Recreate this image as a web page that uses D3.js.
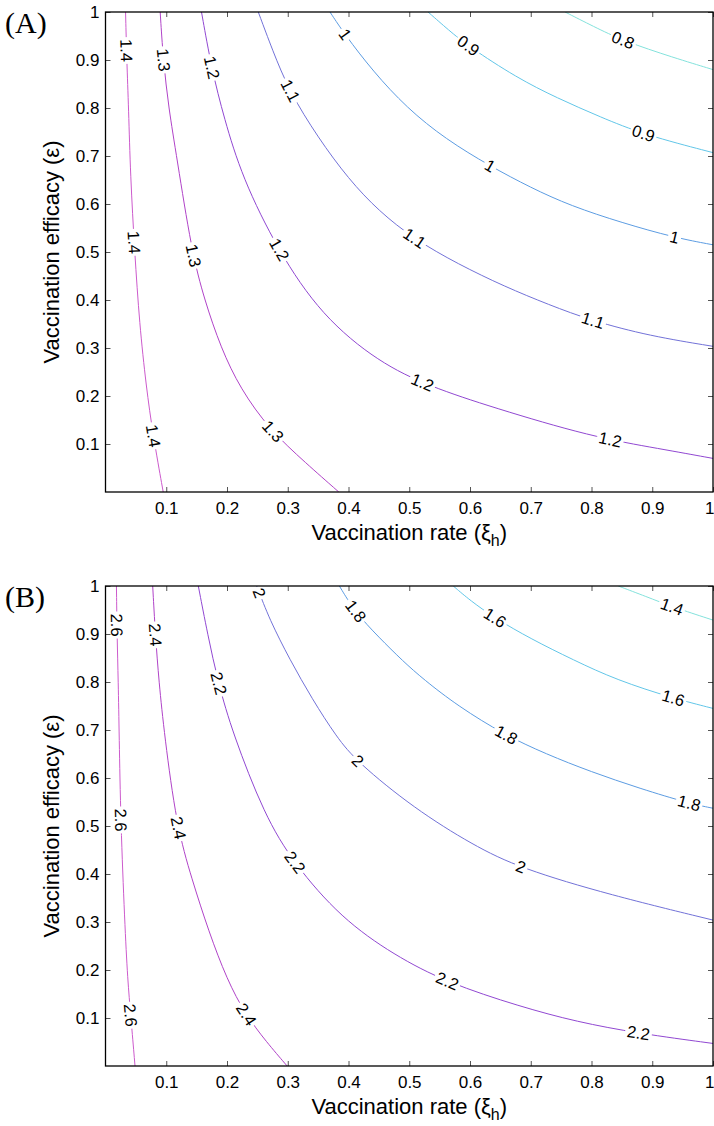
<!DOCTYPE html>
<html>
<head>
<meta charset="utf-8">
<script src="https://cdn.jsdelivr.net/npm/d3@7"></script>
<style>
  body { margin: 0; background: #fff; }
  svg { display: block; }
  text { font-family: "Liberation Sans", Arial, Helvetica, sans-serif; }
</style>
</head>
<body>
<svg id="chart" width="714" height="1126"></svg>
<script>
// tick values / labels (same on both axes)
var tickValues = [0.1, 0.2, 0.3, 0.4, 0.5, 0.6, 0.7, 0.8, 0.9, 1];
var tickLabels = ["0.1", "0.2", "0.3", "0.4", "0.5", "0.6", "0.7", "0.8", "0.9", "1"];

// one colour per contour level, highest level first (magenta -> cyan)
var levelColors = ["#cc5acc", "#b043c8", "#9148d2", "#7272d8", "#5c9ce2", "#62c6e8", "#84e2dc"];

// --- panel A : contour levels, traced lines [xi_h, eps], label anchors ---
var levelsA = [1.4, 1.3, 1.2, 1.1, 1, 0.9, 0.8];
var contoursA = [
  [[0.033,1],[0.035,0.9],[0.038,0.8],[0.041,0.66],[0.048,0.5],[0.056,0.35],[0.067,0.22],[0.078,0.12],[0.095,0]],
  [[0.09,1],[0.095,0.9],[0.104,0.8],[0.117,0.7],[0.142,0.5],[0.163,0.4],[0.19,0.3],[0.222,0.215],[0.27,0.13],[0.33,0.06],[0.384,0]],
  [[0.158,1],[0.175,0.88],[0.195,0.78],[0.225,0.655],[0.284,0.503],[0.356,0.367],[0.45,0.27],[0.533,0.22],[0.638,0.176],[0.8,0.115],[0.913,0.09],[1,0.07]],
  [[0.2515,1],[0.275,0.92],[0.3025,0.835],[0.35,0.738],[0.40,0.652],[0.45,0.585],[0.508,0.527],[0.58,0.475],[0.657,0.428],[0.73,0.39],[0.80,0.357],[0.896,0.325],[1,0.3035]],
  [[0.3695,1],[0.394,0.953],[0.44,0.877],[0.496,0.80],[0.56,0.735],[0.633,0.679],[0.70,0.634],[0.766,0.596],[0.85,0.561],[0.9365,0.53],[1,0.515]],
  [[0.531,1],[0.565,0.962],[0.597,0.929],[0.677,0.863],[0.743,0.821],[0.815,0.781],[0.885,0.745],[1,0.707]],
  [[0.7565,1],[0.803,0.97],[0.852,0.94],[0.935,0.905],[1,0.88]]
];
var labelsA = [
  [[0.033,0.92],[0.046,0.52],[0.077,0.117]],
  [[0.095,0.9],[0.142,0.492],[0.274,0.124]],
  [[0.175,0.884],[0.284,0.503],[0.52,0.223],[0.83,0.103]],
  [[0.3025,0.835],[0.508,0.527],[0.8025,0.357]],
  [[0.394,0.953],[0.633,0.679],[0.9365,0.53]],
  [[0.597,0.929],[0.885,0.745]],
  [[0.852,0.94]]
];

// --- panel B ---
var levelsB = [2.6, 2.4, 2.2, 2, 1.8, 1.6, 1.4];
var contoursB = [
  [[0.018,1],[0.019,0.9],[0.021,0.8],[0.0225,0.69],[0.025,0.51],[0.0316,0.3],[0.0365,0.179],[0.0415,0.106],[0.0486,0]],
  [[0.0777,1],[0.082,0.9],[0.088,0.8],[0.097,0.69],[0.117,0.5],[0.142,0.39],[0.17,0.28],[0.2,0.18],[0.23,0.108],[0.265,0.05],[0.299,0]],
  [[0.1528,1],[0.168,0.9],[0.1857,0.797],[0.209,0.695],[0.2615,0.523],[0.310,0.422],[0.388,0.308],[0.475,0.231],[0.5617,0.174],[0.682,0.124],[0.7756,0.092],[0.877,0.068],[1,0.047]],
  [[0.249,1],[0.27,0.93],[0.3037,0.846],[0.34,0.765],[0.3805,0.685],[0.4137,0.634],[0.5077,0.537],[0.605,0.46],[0.6825,0.412],[0.8315,0.356],[1,0.304]],
  [[0.385,1],[0.4107,0.946],[0.45,0.893],[0.49,0.843],[0.523,0.806],[0.58,0.75],[0.6566,0.69],[0.725,0.65],[0.799,0.613],[0.88,0.578],[0.961,0.547],[1,0.537]],
  [[0.5725,1],[0.60,0.97],[0.641,0.933],[0.70,0.89],[0.770,0.846],[0.8415,0.804],[0.9346,0.766],[1,0.745]],
  [[0.844,1],[0.89,0.978],[0.932,0.957],[1,0.929]]
];
var labelsB = [
  [[0.019,0.919],[0.025,0.5125],[0.0415,0.106]],
  [[0.0815,0.898],[0.119,0.496],[0.2296,0.106]],
  [[0.1857,0.797],[0.31,0.422],[0.5617,0.175],[0.877,0.068]],
  [[0.252,0.985],[0.4137,0.634],[0.6825,0.412]],
  [[0.4107,0.946],[0.6566,0.683],[0.961,0.547]],
  [[0.641,0.933],[0.9346,0.766]],
  [[0.932,0.957]]
];

var svg = d3.select("#chart"),
	plotLeft = 105.5,
	plotRight = 713,
	plotHeight = 480;

drawPanel("(A)", 12, "a", levelsA, contoursA, labelsA);
drawPanel("(B)", 586, "b", levelsB, contoursB, labelsB);

function drawPanel(tag, top, id, levels, contours, labels) {
	var x = d3.scaleLinear().domain([0, 1]).range([plotLeft, plotRight]),
		y = d3.scaleLinear().domain([0, 1]).range([top + plotHeight, top]),
		g = svg.append("g");

	g.append("clipPath").attr("id", "clip-" + id)
	  .append("rect")
		.attr("x", x(0)).attr("y", y(1))
		.attr("width", x(1) - x(0)).attr("height", y(0) - y(1));

	var line = d3.line()
		.x(function(d) { return x(d[0]); })
		.y(function(d) { return y(d[1]); })
		.curve(d3.curveBasis);

	// contour lines
	var paths = g.append("g").attr("clip-path", "url(#clip-" + id + ")")
		.selectAll("path").data(contours).enter().append("path")
		.attr("d", line)
		.attr("fill", "none")
		.attr("stroke", function(d, i) { return levelColors[i]; })
		.attr("stroke-width", 1);

	// inline labels, rotated along the line, with a gap under them
	var labelLayer = g.append("g");
	paths.each(function(d, i) {
		var node = this;
		labels[i].forEach(function(a) {
			placeLabel(labelLayer, node, x(a[0]), y(a[1]), String(levels[i]));
		});
	});

	// ticks: inward on all four sides
	var xAxis = d3.axisBottom(x).tickValues(tickValues)
		.tickFormat(function(d, i) { return tickLabels[i]; })
		.tickSizeInner(-5).tickSizeOuter(0).tickPadding(10);
	var yAxis = d3.axisLeft(y).tickValues(tickValues)
		.tickFormat(function(d, i) { return tickLabels[i]; })
		.tickSizeInner(-5).tickSizeOuter(0).tickPadding(6);

	var gx = g.append("g").attr("transform", "translate(0," + y(0) + ")").call(xAxis);
	g.append("g").attr("transform", "translate(" + x(0) + ",0)").call(yAxis);
	g.append("g").attr("transform", "translate(0," + y(1) + ")")
		.call(d3.axisTop(x).tickValues(tickValues).tickFormat("").tickSizeInner(-5).tickSizeOuter(0));
	g.append("g").attr("transform", "translate(" + x(1) + ",0)")
		.call(d3.axisRight(y).tickValues(tickValues).tickFormat("").tickSizeInner(-5).tickSizeOuter(0));

	g.selectAll(".domain").remove();
	g.selectAll(".tick line").attr("stroke", "#555");
	g.selectAll(".tick text").attr("font-size", 17).attr("fill", "#000")
		.style("font-family", "'Liberation Sans', Arial, sans-serif");
	// the last x label sits on the window edge: keep it inside
	gx.selectAll(".tick text").filter(function(d) { return d === 1; })
		.attr("text-anchor", "end").attr("x", 714 - x(1));

	// frame
	g.append("rect")
		.attr("x", x(0)).attr("y", y(1))
		.attr("width", x(1) - x(0)).attr("height", y(0) - y(1))
		.attr("fill", "none").attr("stroke", "#000").attr("stroke-width", 1.3);

	// axis titles
	var xt = g.append("text")
		.attr("x", (x(0) + x(1)) / 2).attr("y", y(0) + 48)
		.attr("text-anchor", "middle").attr("font-size", 22)
		.text("Vaccination rate (ξ");
	xt.append("tspan").attr("dy", 6).attr("font-size", 16).text("h");
	xt.append("tspan").attr("dy", -6).text(")");

	g.append("text")
		.attr("transform", "translate(59," + ((y(0) + y(1)) / 2) + ") rotate(-90)")
		.attr("text-anchor", "middle").attr("font-size", 22)
		.text("Vaccination efficacy (ε)");

	g.append("text")
		.attr("x", 5).attr("y", top + 21)
		.attr("font-size", 30)
		.style("font-family", "'Liberation Serif', 'Times New Roman', serif")
		.text(tag);
}

function placeLabel(layer, node, px, py, txt) {
	var total = node.getTotalLength(),
		best = 0,
		bestD = Infinity;
	for (var l = 0; l <= total; l += 0.5) {
		var p = node.getPointAtLength(l),
			dd = (p.x - px) * (p.x - px) + (p.y - py) * (p.y - py);
		if (dd < bestD) { bestD = dd; best = l; }
	}
	var c = node.getPointAtLength(best),
		p0 = node.getPointAtLength(Math.max(0, best - 6)),
		p1 = node.getPointAtLength(Math.min(total, best + 6)),
		ang = Math.atan2(p1.y - p0.y, p1.x - p0.x) * 180 / Math.PI;
	if (ang > 90) ang -= 180;
	if (ang < -90) ang += 180;

	var lg = layer.append("g")
		.attr("transform", "translate(" + c.x + "," + c.y + ") rotate(" + ang + ")");
	var t = lg.append("text")
		.attr("text-anchor", "middle")
		.attr("dy", "0.36em")
		.attr("font-size", 16.5)
		.attr("fill", "#000")
		.text(txt);
	var w = t.node().getComputedTextLength();
	lg.insert("rect", "text")
		.attr("x", -w / 2 - 2).attr("y", -4)
		.attr("width", w + 4).attr("height", 8)
		.attr("fill", "#fff");
}
</script>
</body>
</html>
